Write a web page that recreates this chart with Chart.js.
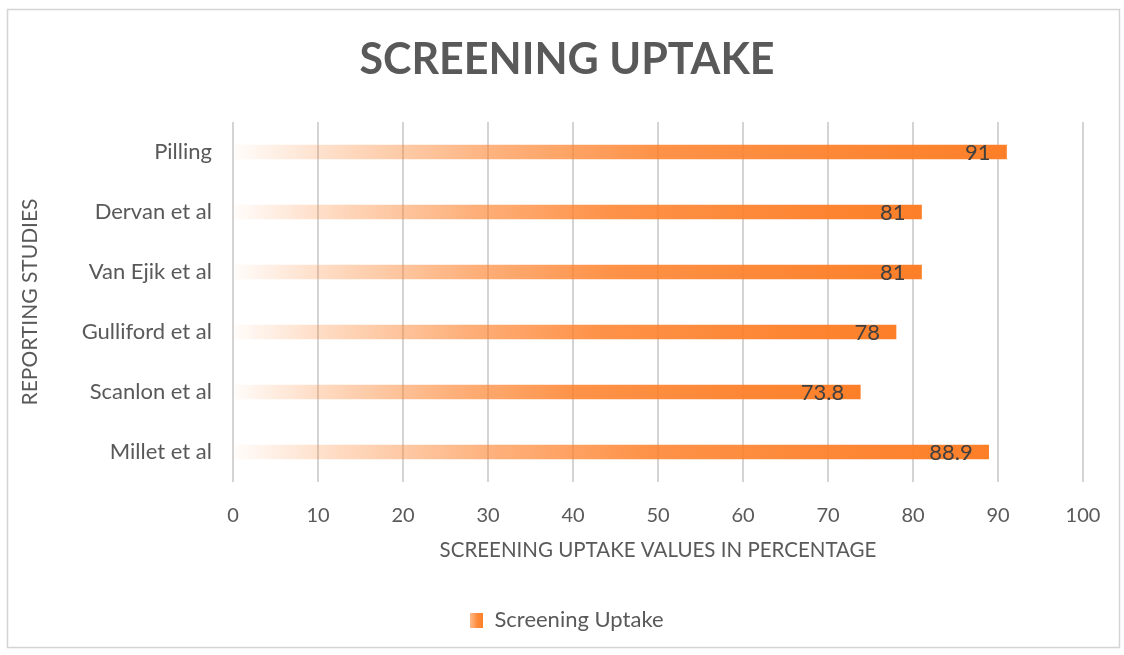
<!DOCTYPE html>
<html>
<head>
<meta charset="utf-8">
<title>Screening Uptake</title>
<script src="https://cdn.jsdelivr.net/npm/chart.js@4.4.1/dist/chart.umd.min.js"></script>
<style>
    body { margin: 0; background: #ffffff; }
    #grafico { display: block; }
</style>
</head>
<body>
<canvas id="grafico" width="1124" height="655"></canvas>
<script>
// Dados do gráfico
const estudos = ['Pilling', 'Dervan et al', 'Van Ejik et al', 'Gulliford et al', 'Scanlon et al', 'Millet et al'];
const valores = [91, 81, 81, 78, 73.8, 88.9];
const ticksX = [0, 10, 20, 30, 40, 50, 60, 70, 80, 90, 100];

const LARANJA = '253, 127, 40';
const FONTE = 'Lato, "Open Sans", sans-serif';
const CINZA = '#595959';

// Gradiente de cada barra (claro na base, laranja na ponta)
function gradienteBarra(context) {
    const chart = context.chart;
    const area = chart.chartArea;
    if (!area) return 'rgb(' + LARANJA + ')';
    const escalaX = chart.scales.x;
    const inicio = escalaX.getPixelForValue(0);
    const fim = escalaX.getPixelForValue(context.raw);
    const grad = chart.ctx.createLinearGradient(inicio, 0, fim, 0);
    grad.addColorStop(0, 'rgba(' + LARANJA + ', 0.02)');
    grad.addColorStop(0.15, 'rgba(' + LARANJA + ', 0.3)');
    grad.addColorStop(0.35, 'rgba(' + LARANJA + ', 0.62)');
    grad.addColorStop(0.55, 'rgba(' + LARANJA + ', 0.85)');
    grad.addColorStop(1, 'rgba(' + LARANJA + ', 1)');
    return grad;
}

// Amostra da legenda
function criarAmostraLegenda() {
    const c = document.createElement('canvas');
    c.width = 13;
    c.height = 15;
    const g = c.getContext('2d');
    const grad = g.createLinearGradient(0, 0, 13, 0);
    grad.addColorStop(0, 'rgba(' + LARANJA + ', 0.55)');
    grad.addColorStop(0.5, 'rgba(' + LARANJA + ', 0.9)');
    grad.addColorStop(1, 'rgba(' + LARANJA + ', 1)');
    g.fillStyle = grad;
    g.fillRect(0, 0, 13, 15);
    return c;
}

// Moldura e fundo
const pluginMoldura = {
    id: 'moldura',
    beforeDraw(chart) {
        const ctx = chart.ctx;
        ctx.save();
        ctx.fillStyle = '#ffffff';
        ctx.fillRect(0, 0, chart.width, chart.height);
        ctx.strokeStyle = '#d4d4d4';
        ctx.lineWidth = 1.5;
        ctx.strokeRect(7.5, 9.5, 1112, 638);
        ctx.restore();
    }
};

// Rótulos de valor dentro da ponta da barra
const pluginRotulos = {
    id: 'rotulos',
    afterDatasetsDraw(chart) {
        const ctx = chart.ctx;
        const meta = chart.getDatasetMeta(0);
        ctx.save();
        ctx.font = '22px ' + FONTE;
        ctx.fillStyle = '#404040';
        ctx.textAlign = 'right';
        ctx.textBaseline = 'middle';
        meta.data.forEach((barra, i) => {
            ctx.fillText(String(valores[i]), barra.x - 16, barra.y + 1);
        });
        ctx.restore();
    }
};

new Chart(document.getElementById('grafico'), {
    type: 'bar',
    data: {
        labels: estudos,
        datasets: [{
            label: 'Screening Uptake',
            data: valores,
            backgroundColor: gradienteBarra,
            borderWidth: 0,
            barThickness: 14
        }]
    },
    options: {
        indexAxis: 'y',
        responsive: false,
        animation: false,
        devicePixelRatio: 1,
        layout: {
            padding: { top: 0, left: 51, right: 41, bottom: 14 }
        },
        plugins: {
            title: {
                display: true,
                text: 'SCREENING UPTAKE',
                color: CINZA,
                font: { family: FONTE, size: 43, weight: 'bold' },
                padding: { top: 34, bottom: 36.4 }
            },
            legend: {
                position: 'bottom',
                labels: {
                    color: CINZA,
                    font: { family: FONTE, size: 22 },
                    usePointStyle: true,
                    pointStyle: criarAmostraLegenda(),
                    boxWidth: 13,
                    boxHeight: 15,
                    padding: 10
                }
            },
            tooltip: { enabled: false }
        },
        scales: {
            x: {
                min: 0,
                max: 100,
                afterBuildTicks(scale) {
                    scale.ticks = ticksX.map(v => ({ value: v }));
                },
                afterFit(scale) {
                    scale.height = 117;
                },
                grid: {
                    color: '#d4d4d4',
                    lineWidth: 2,
                    drawTicks: false
                },
                border: { display: false },
                ticks: {
                    color: CINZA,
                    font: { family: FONTE, size: 20 },
                    padding: 22
                },
                title: {
                    display: true,
                    text: 'SCREENING UPTAKE VALUES IN PERCENTAGE',
                    color: CINZA,
                    font: { family: FONTE, size: 20.5 },
                    padding: { top: 0, bottom: 36.7 }
                }
            },
            y: {
                grid: { display: false, drawTicks: false },
                border: { display: false },
                afterFit(scale) {
                    scale.width = 182;
                },
                ticks: {
                    color: CINZA,
                    font: { family: FONTE, size: 22 },
                    padding: 21
                },
                title: {
                    display: true,
                    text: 'REPORTING STUDIES',
                    color: CINZA,
                    font: { family: FONTE, size: 21 },
                    padding: { top: -33.6, bottom: 0 }
                }
            }
        }
    },
    plugins: [pluginMoldura, pluginRotulos]
});
</script>
</body>
</html>
